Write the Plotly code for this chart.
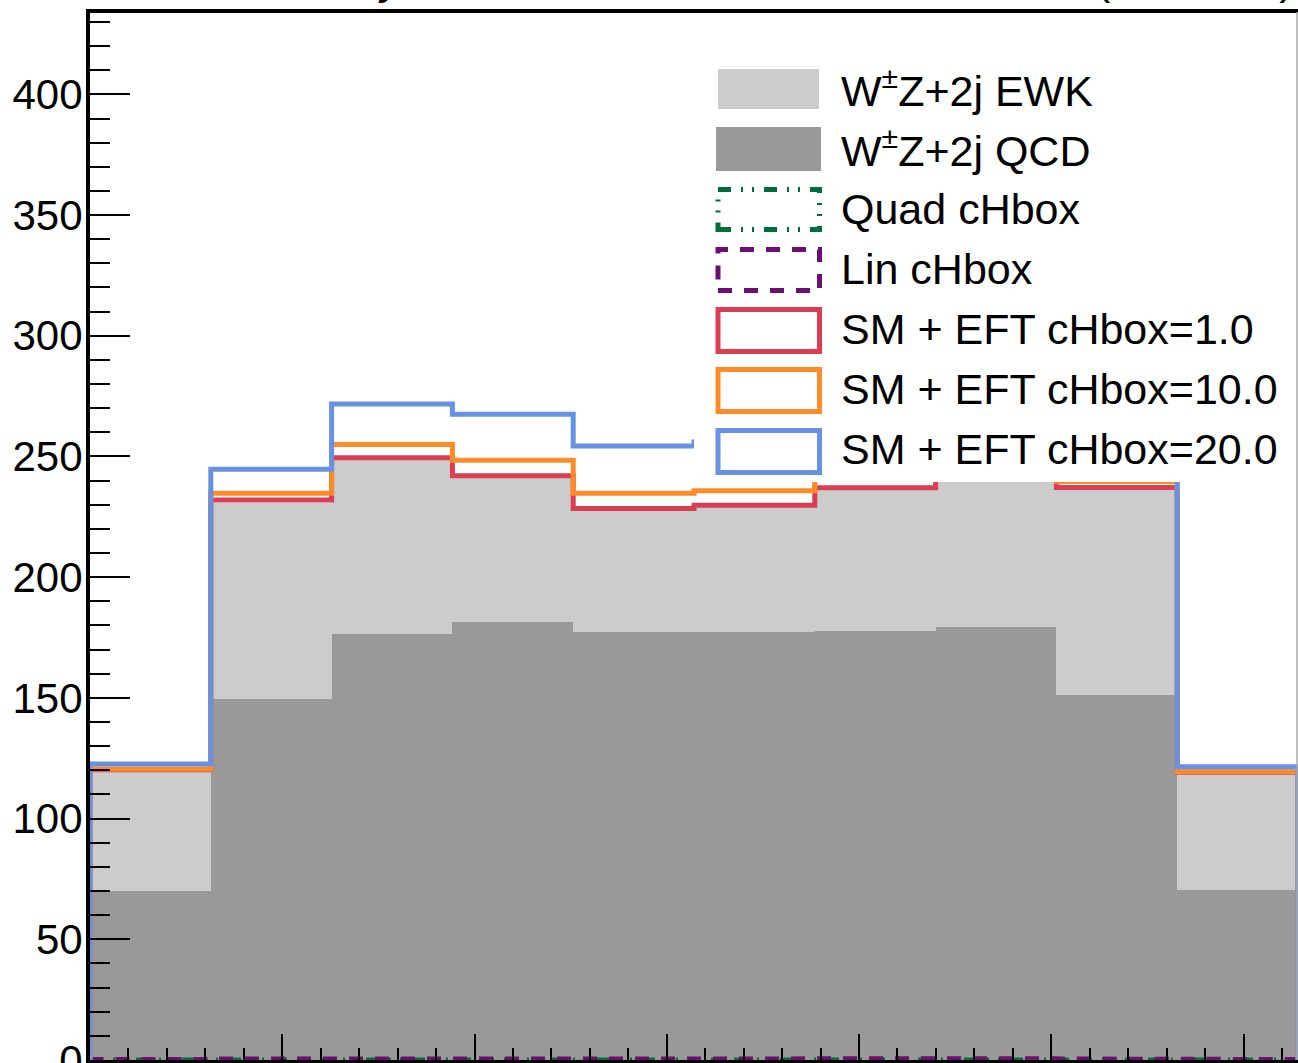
import numpy as np
import plotly.graph_objects as go

# ---------------- data ----------------
x_min, x_max = 0.0, float(np.pi)
n_bins = 10
bin_edges = [float(v) for v in np.linspace(x_min, x_max, n_bins + 1)]

qcd = [70.2, 149.4, 176.6, 181.6, 177.3, 177.3, 177.8, 179.5, 151.1, 70.3]
ewk = [49.6, 81.2, 71.9, 59.4, 50.5, 51.7, 58.2, 65.5, 85.0, 48.7]
quad_chbox = [0.05, 0.1, 0.1, 0.1, 0.1, 0.1, 0.1, 0.1, 0.1, 0.05]
lin_chbox = [0.2, 0.4, 0.5, 0.5, 0.5, 0.5, 0.5, 0.5, 0.4, 0.2]
sm_eft_1 = [120.2, 232.0, 249.5, 242.0, 228.5, 229.8, 237.0, 246.0, 237.1, 119.2]
sm_eft_10 = [120.5, 234.8, 255.0, 248.4, 234.8, 235.8, 242.5, 252.0, 239.6, 119.4]
sm_eft_20 = [122.6, 244.7, 271.7, 267.5, 254.3, 256.0, 265.0, 270.0, 248.0, 121.5]

labels = ["W<sup>±</sup>Z+2j EWK", "W<sup>±</sup>Z+2j QCD", "Quad cHbox", "Lin cHbox",
          "SM + EFT cHbox=1.0", "SM + EFT cHbox=10.0", "SM + EFT cHbox=20.0"]

y_tick_step = 50
y_max = 433.7

# ---------------- styles ----------------
C_EWK = "#cccccc"
C_QCD = "#999999"
C_QUAD = "#006e3c"
C_LIN = "#6e0e73"
C_RED = "#db3d52"
C_ORANGE = "#fc8c28"
C_BLUE = "#6791e3"
DASH_QUAD = "13px,10px,2px,9px,2px,10px"
DASH_LIN = "14px,12px"
FONT = "Liberation Sans, Arial, Helvetica, sans-serif"

W, H = 1298, 1063
L, R, T, B = 90, 0, 13, 3
PW, PH = W - L - R, H - T - B


def px2x(px):
    return (px - L) / PW


def px2y(py):
    return (H - B - py) / PH


centers = [(bin_edges[i] + bin_edges[i + 1]) / 2 for i in range(n_bins)]
bw = bin_edges[1] - bin_edges[0]


def step(vals):
    xs, ys = [bin_edges[0]], [0.0]
    for i, v in enumerate(vals):
        xs += [bin_edges[i], bin_edges[i + 1]]
        ys += [v, v]
    xs.append(bin_edges[-1])
    ys.append(0.0)
    return xs, ys


fig = go.Figure()
fig.add_trace(go.Bar(x=centers, y=qcd, width=bw, name=labels[1],
                     marker=dict(color=C_QCD, line=dict(width=0))))
fig.add_trace(go.Bar(x=centers, y=ewk, width=bw, name=labels[0],
                     marker=dict(color=C_EWK, line=dict(width=0))))

for vals, col, dash, name in [
    (quad_chbox, C_QUAD, DASH_QUAD, labels[2]),
    (lin_chbox, C_LIN, DASH_LIN, labels[3]),
    (sm_eft_1, C_RED, "solid", labels[4]),
    (sm_eft_10, C_ORANGE, "solid", labels[5]),
    (sm_eft_20, C_BLUE, "solid", labels[6]),
]:
    xs, ys = step(vals)
    fig.add_trace(go.Scatter(x=xs, y=ys, mode="lines", name=name,
                             line=dict(color=col, width=5, dash=dash)))

# ---------------- manual legend ----------------
shapes = []
shapes.append(dict(type="rect", xref="paper", yref="paper", layer="above",
                   x0=px2x(694), x1=px2x(1300), y0=px2y(482), y1=px2y(48),
                   fillcolor="white", line=dict(width=0)))
shapes.append(dict(type="rect", xref="paper", yref="paper", layer="above",
                   x0=px2x(718), x1=px2x(819), y0=px2y(109), y1=px2y(69),
                   fillcolor=C_EWK, line=dict(width=0)))
shapes.append(dict(type="rect", xref="paper", yref="paper", layer="above",
                   x0=px2x(716), x1=px2x(821), y0=px2y(171), y1=px2y(127),
                   fillcolor=C_QCD, line=dict(width=0)))
line_boxes = [
    (189.5, 229.5, C_QUAD, DASH_QUAD),
    (249.5, 290.5, C_LIN, DASH_LIN),
    (309.5, 351.5, C_RED, "solid"),
    (369.5, 411.5, C_ORANGE, "solid"),
    (430.5, 472.5, C_BLUE, "solid"),
]
for y0, y1, col, dash in line_boxes:
    shapes.append(dict(type="rect", xref="paper", yref="paper", layer="above",
                       x0=px2x(718), x1=px2x(819.5), y0=px2y(y1), y1=px2y(y0),
                       fillcolor="rgba(0,0,0,0)", line=dict(color=col, width=5, dash=dash)))
shapes.append(dict(type="line", xref="paper", yref="paper", layer="above",
                   x0=px2x(1297), x1=px2x(1297), y0=px2y(1060), y1=px2y(12),
                   line=dict(color="#a8a8a8", width=1.5)))

annotations = []
text_centers = [88, 148, 209, 269, 329, 389, 449]
for lab, cy in zip(labels, text_centers):
    annotations.append(dict(xref="paper", yref="paper", x=px2x(839), y=px2y(cy),
                            xanchor="left", yanchor="middle", showarrow=False,
                            text=lab, font=dict(family=FONT, size=43, color="black")))

# header text (cut off by the top edge of the picture)
annotations.append(dict(xref="paper", yref="paper", x=px2x(78), y=px2y(-21),
                        xanchor="left", yanchor="middle", showarrow=False,
                        text="<b>CMS</b> <i>Preliminary</i>",
                        font=dict(family=FONT, size=43, color="black")))
annotations.append(dict(xref="paper", yref="paper", x=px2x(1296), y=px2y(-21),
                        xanchor="right", yanchor="middle", showarrow=False,
                        text="(13.6 TeV)",
                        font=dict(family=FONT, size=43, color="black")))

fig.update_layout(
    width=W, height=H,
    margin=dict(l=L, r=R, t=T, b=B, autoexpand=False),
    plot_bgcolor="white", paper_bgcolor="white",
    barmode="stack", bargap=0, showlegend=False,
    shapes=shapes, annotations=annotations,
    font=dict(family=FONT, size=42, color="black"),
    xaxis=dict(range=[x_min, x_max], showline=True, linecolor="black", linewidth=4,
               mirror=True, ticks="inside", tick0=0, dtick=0.5, ticklen=26,
               tickwidth=2, tickcolor="black", showgrid=False, zeroline=False,
               showticklabels=False, automargin=False,
               minor=dict(dtick=0.1, ticks="inside", ticklen=12, tickwidth=2,
                          tickcolor="black", showgrid=False)),
    yaxis=dict(range=[0, y_max], showline=True, linecolor="black", linewidth=4,
               ticks="inside", tick0=0, dtick=y_tick_step, ticklen=40, tickwidth=2,
               tickcolor="black", showgrid=False, zeroline=False, automargin=False,
               ticklabeloverflow="allow", ticklabelstandoff=-5,
               tickfont=dict(family=FONT, size=42),
               minor=dict(dtick=10, ticks="inside", ticklen=20, tickwidth=2,
                          tickcolor="black", showgrid=False)),
)

fig.write_html("out.html", config={"displayModeBar": False, "staticPlot": True},
               post_script="document.body.style.margin='0px';document.body.style.overflow='hidden';")
